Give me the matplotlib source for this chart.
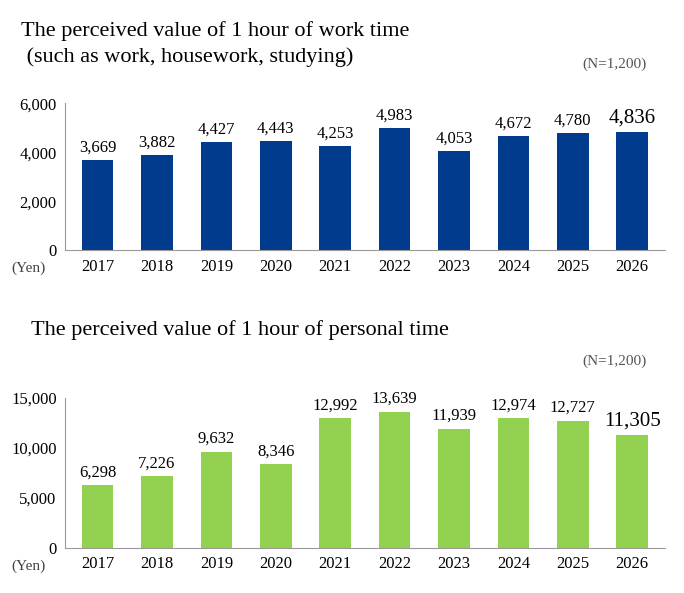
import matplotlib
matplotlib.use("Agg")
import matplotlib.pyplot as plt
from matplotlib.ticker import FuncFormatter

years = ["2017", "2018", "2019", "2020", "2021", "2022", "2023", "2024", "2025", "2026"]
work_values = [3669, 3882, 4427, 4443, 4253, 4983, 4053, 4672, 4780, 4836]
personal_values = [6298, 7226, 9632, 8346, 12992, 13639, 11939, 12974, 12727, 11305]

plt.rcParams['font.family'] = ['Liberation Serif', 'DejaVu Serif']

fig = plt.figure(figsize=(6.84, 5.93), dpi=100)


def panel(rect, values, color, ymax, step):
    ax = fig.add_axes(rect)
    x = range(len(years))
    ax.bar(x, values, width=0.53, color=color)
    ax.set_xlim(-0.55, len(years) - 0.45)
    ax.set_ylim(0, ymax)
    ax.set_yticks(range(0, ymax + 1, step))
    ax.yaxis.set_major_formatter(FuncFormatter(lambda v, p: f"{int(v):,}"))
    ax.set_xticks(list(x))
    ax.set_xticklabels(years)
    ax.tick_params(axis='both', labelsize=12, length=0, pad=6)
    for s in ['top', 'right']:
        ax.spines[s].set_visible(False)
    for s in ['left', 'bottom']:
        ax.spines[s].set_color('#999999')
    for i, v in enumerate(values):
        last = i == len(values) - 1
        ax.text(i, v + ymax * 0.03, f"{v:,}", ha='center', va='bottom',
                fontsize=15 if last else 12)
    ax.text(-0.09, -0.12, "(Yen)", transform=ax.transAxes, fontsize=11,
            color='#444444', ha='left', va='center')
    return ax


panel([0.095, 0.578, 0.877, 0.248], work_values, '#003b8e', 6000, 2000)
panel([0.095, 0.076, 0.877, 0.253], personal_values, '#92d050', 15000, 5000)

fig.text(0.030, 0.948, "The perceived value of 1 hour of work time", fontsize=16, va='center')
fig.text(0.030, 0.903, " (such as work, housework, studying)", fontsize=16, va='center')
fig.text(0.945, 0.892, "(N=1,200)", fontsize=11, color='#555555', ha='right', va='center')
fig.text(0.045, 0.443, "The perceived value of 1 hour of personal time", fontsize=16, va='center')
fig.text(0.945, 0.390, "(N=1,200)", fontsize=11, color='#555555', ha='right', va='center')

fig.savefig("out.png", dpi=100)
